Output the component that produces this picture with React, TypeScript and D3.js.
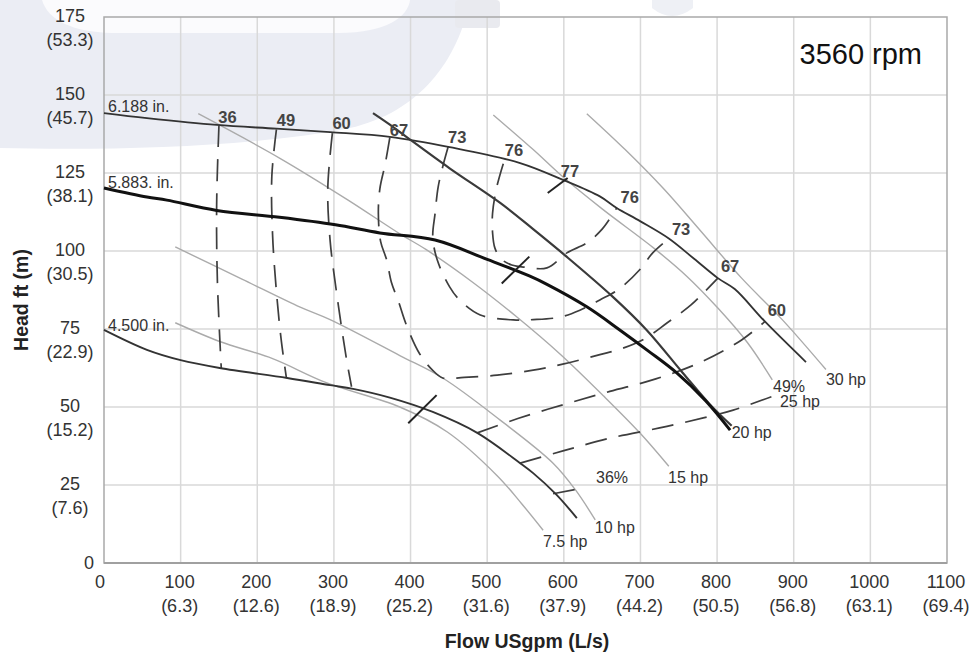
import React, { useEffect } from 'react';
import * as d3 from 'd3';

type P = [number, number];

const W = 971;
const H = 654;

// Axis ticks
const flowTicks = [0, 100, 200, 300, 400, 500, 600, 700, 800, 900, 1000, 1100];
const flowLps = ['', '(6.3)', '(12.6)', '(18.9)', '(25.2)', '(31.6)', '(37.9)', '(44.2)', '(50.5)', '(56.8)', '(63.1)', '(69.4)'];
const headTicks = [0, 25, 50, 75, 100, 125, 150, 175];
const headM = ['', '(7.6)', '(15.2)', '(22.9)', '(30.5)', '(38.1)', '(45.7)', '(53.3)'];

// Impeller head curves (flow USgpm, head ft)
const imp6188: P[] = [[0, 144.2], [56, 142.6], [147, 140.4], [225, 139.2], [295, 138.1], [373, 136.6], [451, 133.3], [543, 128.2], [599, 122.8], [647, 117.5], [669, 113.8], [700, 109.5], [737, 104], [770, 97.5], [801, 91.3], [823, 87.8], [862, 77.5], [916, 64.4]];
const imp5883: P[] = [[0, 120.2], [56, 117.3], [82, 116.3], [147, 113], [229, 110.8], [302, 108.4], [360, 105.8], [432, 103.5], [500, 97.3], [555, 92], [578, 89.3], [630, 82.1], [673, 74.7], [710, 68], [747, 61], [785, 52], [817, 42.6]];
const imp4500: P[] = [[0, 74.7], [56, 68.3], [100, 65], [151, 62.5], [239, 59.3], [295, 57], [325, 55.8], [373, 53], [429, 48.4], [487, 41.7], [543, 32], [560, 28.8], [590, 22], [617, 14.4]];

// Power lines (hp)
const hp7_5: P[] = [[93, 77], [151, 71], [220, 65.5], [290, 57.8], [386, 50], [448, 42], [513, 28], [545, 19], [573, 10.5]];
const hp10: P[] = [[93, 101.3], [180, 91], [256, 82], [295, 78], [386, 66.5], [442, 59.3], [517, 45.8], [586, 32], [615, 23.5], [641, 13.8]];
const hp15: P[] = [[123, 144], [229, 129.8], [318, 116.4], [386, 105.5], [420, 100.5], [481, 90], [538, 79], [595, 67], [652, 53.5], [700, 41.5], [737, 31]];
const hp20: P[] = [[351, 144.2], [373, 140.5], [395, 136.5], [451, 126.5], [517, 115.4], [560, 107], [604, 98.1], [664, 85.3], [708, 74.7], [755, 61], [790, 51], [819, 44]];
const hp25: P[] = [[508, 143.6], [560, 132.5], [599, 123.7], [650, 113.5], [717, 101], [760, 92], [801, 81.7], [840, 70.5], [872, 58.7]];
const hp30: P[] = [[630, 144], [680, 132.5], [730, 120], [780, 106], [832, 91.3], [885, 78], [942, 62]];

// Iso-efficiency lines (dashed)
const eff36L: P[] = [[150, 140.3], [147, 115], [148, 90], [153, 62.5]];
const eff36R: P[] = [[586, 22.2], [628, 24.2]];
const eff49L: P[] = [[225, 139], [219, 124], [220, 105], [225, 87], [231, 72], [238, 59.3]];
const eff49R: P[] = [[543, 32], [600, 36], [660, 40], [725, 43.3], [782, 46.5], [821, 49], [873, 53.5]];
const eff60L: P[] = [[298, 137.8], [292, 120], [295, 103.5], [303, 87.5], [316, 66], [323, 56.5]];
const eff60R: P[] = [[487, 41.7], [540, 46.3], [600, 50.8], [660, 55], [720, 59], [780, 64.5], [832, 71.5], [863, 77.5]];
const eff67: P[] = [[373, 136.4], [367, 128], [360, 120], [358, 112], [361, 103], [369, 97], [375, 90], [384, 84], [395, 76], [412, 67], [428, 62], [442, 59.3], [470, 59.5], [513, 60.2], [560, 61.8], [600, 63.8], [647, 66.8], [673, 68.5], [705, 71.8], [735, 77], [766, 82.7], [784, 87], [801, 91.3]];
const eff73: P[] = [[449, 133.3], [442, 127], [436, 120.5], [432, 112], [429, 104.5], [435, 97], [451, 88.5], [464, 84.3], [491, 79.5], [534, 77.9], [560, 78], [595, 78.8], [621, 81], [647, 84.3], [673, 88], [699, 94], [716, 99.4], [737, 104]];
const eff76: P[] = [[521, 128], [512, 120], [507, 112], [507, 106], [510, 101], [518, 97.5], [532, 95.5], [550, 94.8], [578, 94.6], [604, 99.4], [630, 102.6], [650, 107], [669, 113.8]];

// Best efficiency point marks
const bep6188: P[] = [[579, 118.6], [605, 123.4]];
const bep5883: P[] = [[519, 89.6], [555, 98.2]];
const bep4500: P[] = [[397, 44.8], [434, 53.8]];

// Efficiency value labels [text, flow, head]
const effLabels: [string, number, number][] = [
  ['36', 161, 141], ['49', 237.5, 140.1], ['60', 310, 139], ['67', 385, 136.9], ['73', 461, 134.6],
  ['76', 535, 130.4], ['77', 608, 123.8], ['76', 686, 115.5], ['73', 753, 105.1], ['67', 817, 93.4], ['60', 878, 79.2],
];
// Curve labels [text, flow, head] (left anchored)
const curveLabels: [string, number, number][] = [
  ['6.188 in.', 5.2, 144.6], ['5.883. in.', 5.2, 120.2], ['4.500 in.', 5.2, 74.5],
  ['30 hp', 942, 57.1], ['49%', 873, 54.8], ['25 hp', 882, 50], ['20 hp', 819, 40.1],
  ['15 hp', 736, 25.6], ['36%', 642, 25.6], ['10 hp', 640.5, 9.6], ['7.5 hp', 572.8, 5.1],
];
const speedLabel = '3560 rpm';

const FONT = '"Liberation Sans", Arial, Helvetica, sans-serif';

export default function App() {
  useEffect(() => {
    document.body.style.margin = '0';
  }, []);

  const x = d3.scaleLinear().domain([0, 1100]).range([104, 947]);
  const y = d3.scaleLinear().domain([0, 175]).range([563, 17]);
  const line = d3.line<P>().x(d => x(d[0])).y(d => y(d[1])).curve(d3.curveCatmullRom.alpha(0.5));
  const straight = d3.line<P>().x(d => x(d[0])).y(d => y(d[1]));

  const dash = '22,12';
  const dashColor = '#3e3e3e';
  const powerColor = '#ababab';

  return (
    <svg width={W} height={H} style={{ position: 'absolute', left: 0, top: 0, background: '#fff' }} fontFamily={FONT}>
      {/* watermark */}
      <g>
        <path d="M0,0 L0,148 C120,151 260,146 350,128 C420,112 458,60 470,0 Z" fill="#ebedf4" />
        <path d="M42,0 C48,20 72,32 112,33 L338,33 C388,33 408,16 410,0 Z" fill="#fbfbfd" />
        <rect x={455} y={0} width={45} height={28} rx={4} fill="#e9eaef" />
        <path d="M652,0 L652,8 Q672,24 693,8 L693,0 Z" fill="#eef0f5" />
      </g>

      {/* grid */}
      <g>
        {flowTicks.slice(1, -1).map(t => (
          <line key={'gx' + t} x1={x(t)} x2={x(t)} y1={y(0)} y2={y(175)} stroke="#d9d9d9" strokeWidth={1.5} />
        ))}
        {headTicks.slice(1, -1).map(t => (
          <line key={'gy' + t} x1={x(0)} x2={x(1100)} y1={y(t)} y2={y(t)} stroke="#d9d9d9" strokeWidth={1.5} />
        ))}
        <rect x={x(0)} y={y(175)} width={x(1100) - x(0)} height={y(0) - y(175)} fill="none" stroke="#a9a9a9" strokeWidth={1.5} />
        <line x1={x(0)} x2={x(1100)} y1={y(0)} y2={y(0)} stroke="#a0a0a0" strokeWidth={2} />
      </g>

      {/* power lines */}
      <g fill="none" stroke={powerColor} strokeWidth={1.4}>
        {[hp7_5, hp10, hp15, hp25, hp30].map((d, i) => <path key={'hp' + i} d={line(d) || ''} />)}
      </g>

      {/* iso-efficiency dashed lines */}
      <g fill="none" stroke={dashColor} strokeWidth={1.7} strokeDasharray={dash}>
        {[eff36L, eff36R, eff49L, eff49R, eff60L, eff60R, eff67, eff73, eff76].map((d, i) => (
          <path key={'eff' + i} d={line(d) || ''} />
        ))}
      </g>

      {/* impeller curves */}
      <g fill="none" strokeLinejoin="round">
        <path d={line(imp6188) || ''} stroke="#333" strokeWidth={1.8} />
        <path d={line(imp4500) || ''} stroke="#333" strokeWidth={1.9} />
        <path d={line(hp20) || ''} stroke="#3a3a3a" strokeWidth={2.2} />
        <path d={line(imp5883) || ''} stroke="#111" strokeWidth={3} />
      </g>

      {/* BEP marks */}
      <g fill="none" stroke="#222" strokeWidth={2}>
        {[bep6188, bep5883, bep4500].map((d, i) => <path key={'bep' + i} d={straight(d) || ''} />)}
      </g>

      {/* efficiency labels */}
      <g fontSize={16.5} fontWeight="bold" fill="#444" textAnchor="middle">
        {effLabels.map(([t, q, h], i) => (
          <text key={'el' + i} x={x(q)} y={y(h)}>{t}</text>
        ))}
      </g>

      {/* curve labels */}
      <g fontSize={16} fill="#333">
        {curveLabels.map(([t, q, h], i) => (
          <text key={'cl' + i} x={x(q)} y={y(h)}>{t}</text>
        ))}
      </g>

      <text x={x(1067.4)} y={y(159.9)} fontSize={29} fill="#111" textAnchor="end">{speedLabel}</text>

      {/* y axis labels */}
      <g fontSize={18} fill="#333" textAnchor="middle">
        {headTicks.map((t, i) =>
          t === 0 ? (
            <text key={'yl' + t} x={89} y={y(t)} dominantBaseline="central">0</text>
          ) : (
            <g key={'yl' + t}>
              <text x={70} y={y(t) - 1} dominantBaseline="central">{t}</text>
              <text x={70} y={y(t) + 23} dominantBaseline="central">{headM[i]}</text>
            </g>
          )
        )}
      </g>

      {/* x axis labels */}
      <g fontSize={18} fill="#333" textAnchor="middle">
        {flowTicks.map((t, i) => (
          <g key={'xl' + t}>
            <text x={t === 0 ? 100 : x(t) - 1} y={582} dominantBaseline="central">{t}</text>
            {flowLps[i] && <text x={x(t) - 1} y={606} dominantBaseline="central">{flowLps[i]}</text>}
          </g>
        ))}
      </g>

      <text x={527} y={641} fontSize={19.5} fontWeight="bold" fill="#222" textAnchor="middle" dominantBaseline="central">Flow USgpm (L/s)</text>
      <text transform="translate(21,300) rotate(-90)" fontSize={19.5} fontWeight="bold" fill="#222" textAnchor="middle" dominantBaseline="central">Head ft (m)</text>
    </svg>
  );
}
